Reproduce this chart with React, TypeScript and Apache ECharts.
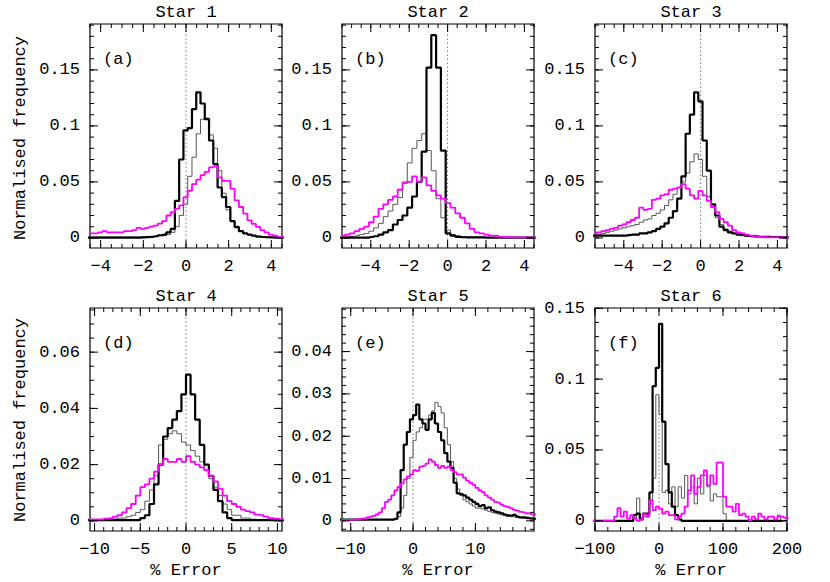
import React, { useEffect, useRef } from 'react';
import * as echarts from 'echarts';

const FONT_FAMILY = '"Liberation Mono", "DejaVu Sans Mono", monospace';
const FONT_SIZE = 17;

const titles = ['Star 1', 'Star 2', 'Star 3', 'Star 4', 'Star 5', 'Star 6'];
const tags = ['(a)', '(b)', '(c)', '(d)', '(e)', '(f)'];
const yAxisTitle = 'Normalised frequency';
const xAxisTitle = '% Error';

const xTicksABC = [-4, -2, 0, 2, 4];
const xTicksD = [-10, -5, 0, 5, 10];
const xTicksE = [-10, 0, 10];
const xTicksF = [-100, 0, 100, 200];
const yTicksABC = [0, 0.05, 0.1, 0.15];
const yTicksD = [0, 0.02, 0.04, 0.06];
const yTicksE = [0, 0.01, 0.02, 0.03, 0.04];
const yTicksF = [0, 0.05, 0.1, 0.15];

// ---- Star 1 (bin centres start at -4.42, width 0.2)
const binStartA = -4.42;
const binWidthA = 0.2;
const blackA = [
  0.0003, 0.0003, 0.0003, 0.0003, 0.0003, 0.0003, 0.0003, 0.0003, 0.0003, 0.0003, 0.0003, 0.0003,
  0.0005, 0.0007, 0.001, 0.0015, 0.0024, 0.003, 0.005, 0.008,
  0.033, 0.07, 0.096, 0.098, 0.115, 0.13, 0.12, 0.106, 0.087, 0.066,
  0.045, 0.0365, 0.0276, 0.015, 0.0098, 0.006, 0.004, 0.003, 0.002, 0.0012,
  0.0008, 0.0006, 0.0005, 0.0004, 0.0003,
];
const greyA = [
  0.0008, 0.0008, 0.0008, 0.0008, 0.0008, 0.0008, 0.0008, 0.0008, 0.0008, 0.0008, 0.0008, 0.0008,
  0.001, 0.001, 0.0012, 0.0015, 0.002, 0.002, 0.003, 0.005,
  0.01, 0.02, 0.03, 0.055, 0.072, 0.093, 0.106, 0.107, 0.092, 0.08,
  0.06, 0.04, 0.025, 0.015, 0.009, 0.006, 0.004, 0.003, 0.002, 0.0015,
  0.001, 0.0008, 0.0006, 0.0005, 0.0004,
];
const magentaA = [
  0.004, 0.004, 0.005, 0.006, 0.005, 0.005, 0.005, 0.005, 0.006, 0.006, 0.007, 0.009,
  0.008, 0.009, 0.01, 0.011, 0.0128, 0.015, 0.02, 0.023,
  0.026, 0.029, 0.0365, 0.042, 0.048, 0.052, 0.056, 0.059, 0.063, 0.064,
  0.054, 0.051, 0.051, 0.044, 0.0335, 0.0276, 0.0217, 0.0157, 0.0125, 0.0098,
  0.007, 0.005, 0.003, 0.002, 0.001,
];

// ---- Star 2 (bin centres start at -5.475, width 0.25)
const binStartB = -5.475;
const binWidthB = 0.25;
const blackB = [
  0.0003, 0.0003, 0.0003, 0.0003, 0.0003, 0.0003,
  0.0008, 0.0015, 0.003, 0.005, 0.007, 0.012, 0.016, 0.02, 0.027, 0.037,
  0.05, 0.077, 0.152, 0.181, 0.152, 0.078, 0.004, 0.002, 0.001, 0.0006,
  0.0005, 0.0005, 0.0004, 0.0004, 0.0003, 0.0003, 0.0003, 0.0003, 0.0003, 0.0003,
  0.0003, 0.0003, 0.0003, 0.0003, 0.0003,
];
const greyB = [
  0.001, 0.001, 0.0015, 0.002, 0.003, 0.004,
  0.006, 0.009, 0.013, 0.019, 0.024, 0.03, 0.036, 0.05, 0.067, 0.08,
  0.087, 0.093, 0.078, 0.06, 0.035, 0.018, 0.007, 0.003, 0.002, 0.001,
  0.0008, 0.0006, 0.0005, 0.0005, 0.0004, 0.0004, 0.0003, 0.0003, 0.0003, 0.0003,
  0.0003, 0.0003, 0.0003, 0.0003, 0.0003,
];
const magentaB = [
  0.002, 0.003, 0.004, 0.006, 0.008, 0.01,
  0.014, 0.019, 0.026, 0.03, 0.034, 0.037, 0.043, 0.049, 0.05, 0.055,
  0.05, 0.054, 0.047, 0.042, 0.038, 0.035, 0.031, 0.027, 0.022, 0.018,
  0.013, 0.008, 0.005, 0.004, 0.003, 0.002, 0.002, 0.001, 0.0008, 0.0006,
  0.0005, 0.0005, 0.0004, 0.0004, 0.0003,
];

// ---- Star 3 (bin centres start at -5.51, width 0.22)
const binStartC = -5.51;
const binWidthC = 0.22;
const blackC = [
  0.002, 0.002, 0.002, 0.002, 0.002, 0.002, 0.002, 0.002,
  0.0025, 0.003, 0.003, 0.004, 0.004, 0.005, 0.006, 0.008, 0.01, 0.013,
  0.018, 0.024, 0.035, 0.055, 0.093, 0.11, 0.13, 0.122, 0.087, 0.06,
  0.03, 0.02, 0.01, 0.007, 0.005, 0.004, 0.003, 0.003, 0.002, 0.0015,
  0.0015, 0.001, 0.001, 0.001, 0.0008, 0.0008, 0.0006, 0.0005,
];
const greyC = [
  0.002, 0.003, 0.004, 0.005, 0.006, 0.007, 0.008, 0.009,
  0.01, 0.011, 0.012, 0.014, 0.016, 0.017, 0.02, 0.022, 0.025, 0.029,
  0.034, 0.039, 0.045, 0.05, 0.058, 0.068, 0.075, 0.07, 0.055, 0.037,
  0.027, 0.018, 0.012, 0.008, 0.006, 0.004, 0.003, 0.002, 0.0015, 0.0015,
  0.001, 0.001, 0.001, 0.0008, 0.0008, 0.0006, 0.0005, 0.0005,
];
const magentaC = [
  0.004, 0.005, 0.006, 0.007, 0.008, 0.009, 0.011, 0.012,
  0.014, 0.016, 0.018, 0.027, 0.025, 0.026, 0.034, 0.035, 0.038, 0.039,
  0.043, 0.044, 0.045, 0.048, 0.044, 0.038, 0.035, 0.042, 0.038, 0.033,
  0.028, 0.023, 0.017, 0.014, 0.011, 0.007, 0.005, 0.004, 0.003, 0.002,
  0.001, 0.0008, 0.0006, 0.0005, 0.0005, 0.0004, 0.0004, 0.0003,
];

// ---- Star 4 (bin centres start at -10.25, width 0.5)
const binStartD = -10.25;
const binWidthD = 0.5;
const blackD = [
  0.0003, 0.0003, 0.0003, 0.0003, 0.0003, 0.0003, 0.0003, 0.0003, 0.0003, 0.0003, 0.0003,
  0.001, 0.002, 0.006, 0.013, 0.02, 0.03, 0.033, 0.036, 0.039, 0.045,
  0.052, 0.045, 0.036, 0.027, 0.02, 0.016, 0.011, 0.007, 0.003, 0.001,
  0.0003, 0.0003, 0.0003, 0.0003, 0.0003, 0.0003, 0.0003, 0.0003, 0.0003, 0.0003, 0.0003,
];
const greyD = [
  0.0003, 0.0003, 0.0003, 0.0003, 0.0003, 0.0007, 0.001, 0.001, 0.0015, 0.002,
  0.003, 0.004, 0.007, 0.011, 0.016, 0.027, 0.029, 0.031, 0.032, 0.031,
  0.028, 0.027, 0.025, 0.023, 0.021, 0.018, 0.015, 0.012, 0.009, 0.006,
  0.004, 0.002, 0.002, 0.001, 0.001, 0.0006, 0.0005, 0.0005, 0.0005, 0.0005, 0.0005, 0.0005,
];
const magentaD = [
  0.0005, 0.0005, 0.0005, 0.0008, 0.001, 0.0015, 0.002, 0.003, 0.0045, 0.006,
  0.009, 0.012, 0.013, 0.015, 0.0175, 0.02, 0.022, 0.021, 0.021, 0.022,
  0.021, 0.023, 0.021, 0.02, 0.019, 0.018, 0.016, 0.014, 0.0115, 0.009,
  0.007, 0.006, 0.005, 0.004, 0.0035, 0.003, 0.0022, 0.002, 0.0015, 0.001, 0.0008, 0.0006,
];

// ---- Star 5 (bin centres start at -11.25, width 0.5)
const binStartE = -11.25;
const binWidthE = 0.5;
const blackE = [
  0.0003, 0.0003, 0.0003, 0.0003, 0.0003, 0.0003, 0.0003, 0.0003, 0.0003, 0.0003,
  0.0003, 0.0003, 0.0003, 0.0003, 0.0003, 0.0003, 0.0003, 0.0005, 0.002, 0.012,
  0.018, 0.021, 0.024, 0.025, 0.0275, 0.024, 0.023, 0.0215, 0.024, 0.0255,
  0.023, 0.021, 0.019, 0.016, 0.014, 0.0125, 0.009, 0.0065, 0.0063, 0.006,
  0.0055, 0.005, 0.0045, 0.004, 0.0035, 0.0037, 0.003, 0.0032, 0.0025, 0.0022,
  0.002, 0.0018, 0.0015, 0.0013, 0.0012, 0.0014, 0.001, 0.0008, 0.0008, 0.0007,
  0.0006, 0.0005,
];
const greyE = [
  0.0003, 0.0003, 0.0003, 0.0003, 0.0003, 0.0003, 0.0003, 0.0003, 0.0003, 0.0003,
  0.0003, 0.0003, 0.0003, 0.0003, 0.0003, 0.0003, 0.0003, 0.0003, 0.001, 0.003,
  0.006, 0.01, 0.015, 0.019, 0.021, 0.022, 0.024, 0.024, 0.025, 0.026,
  0.028, 0.027, 0.0255, 0.022, 0.018, 0.014, 0.01, 0.0075, 0.006, 0.005,
  0.0045, 0.004, 0.0035, 0.003, 0.003, 0.0028, 0.0025, 0.0022, 0.002, 0.0018,
  0.0016, 0.0014, 0.0012, 0.001, 0.001, 0.0009, 0.0008, 0.0007, 0.0006, 0.0005,
  0.0005, 0.0005,
];
const magentaE = [
  0.0002, 0.0002, 0.0002, 0.0003, 0.0003, 0.0004, 0.0005, 0.0006, 0.0008, 0.001,
  0.0012, 0.0015, 0.002, 0.003, 0.0045, 0.005, 0.006, 0.0072, 0.008, 0.0088,
  0.0098, 0.0105, 0.011, 0.012, 0.0118, 0.0128, 0.013, 0.0135, 0.0145, 0.014,
  0.0132, 0.0125, 0.013, 0.0125, 0.0128, 0.012, 0.0115, 0.011, 0.011, 0.0102,
  0.0095, 0.009, 0.0085, 0.0078, 0.0072, 0.0068, 0.006, 0.0055, 0.005, 0.0045,
  0.0043, 0.0038, 0.0035, 0.0033, 0.003, 0.0026, 0.0024, 0.0021, 0.002, 0.0018,
  0.0017, 0.0015,
];

// ---- Star 6 (bin centres start at -97.5, width 5)
const binStartF = -97.5;
const binWidthF = 5;
const blackF = [
  0, 0, 0, 0, 0, 0, 0, 0, 0, 0, 0, 0,
  0.004, 0.005, 0.001, 0.005, 0.005, 0.02, 0.095, 0.108, 0.139, 0.07, 0.04, 0.02, 0.01, 0.004, 0.001,
  0, 0, 0, 0, 0, 0, 0, 0, 0, 0, 0, 0, 0, 0, 0, 0, 0, 0, 0, 0, 0, 0, 0, 0, 0, 0, 0, 0, 0, 0, 0,
];
const greyF = [
  0, 0, 0, 0, 0, 0, 0, 0, 0, 0, 0, 0,
  0.002, 0.016, 0.002, 0.003, 0.004, 0.012, 0.03, 0.089, 0.075, 0.02, 0.0215, 0.012, 0.024, 0.01,
  0.024, 0.016, 0.032, 0.019, 0.024, 0.012, 0.03, 0.019, 0.032, 0.024, 0.014, 0.019, 0.017, 0.017, 0.005,
  0, 0, 0, 0, 0, 0, 0, 0, 0, 0, 0, 0, 0, 0, 0, 0,
  0.004, 0, 0,
];
const magentaF = [
  0, 0, 0, 0, 0, 0, 0.003, 0.009, 0.003, 0.0065,
  0.0016, 0.004, 0.0016, 0, 0.001, 0.005, 0.003, 0.0145, 0.0075, 0.01,
  0.0086, 0.005, 0.0065, 0.004, 0.004, 0.001, 0.003, 0.005, 0.01, 0.0215,
  0.032, 0.019, 0.024, 0.032, 0.0355, 0.025, 0.032, 0.026, 0.041, 0.041,
  0.017, 0.01, 0.01, 0.0065, 0.012, 0.004, 0.005, 0.003, 0.0005, 0.003,
  0.001, 0.005, 0.003, 0.001, 0.003, 0.003, 0.001, 0.003, 0.003, 0.002,
];

const panels = [
  { left: 90, top: 24, xMin: -4.5, xMax: 4.5, yMin: -0.009, yMax: 0.191, xTicks: xTicksABC, xMinor: 0.5, yTicks: yTicksABC, yMinor: 0.01, binStart: binStartA, binWidth: binWidthA, black: blackA, grey: greyA, magenta: magentaA, zeroTop: 0.191 },
  { left: 342, top: 24, xMin: -5.5, xMax: 4.5, yMin: -0.009, yMax: 0.191, xTicks: xTicksABC, xMinor: 0.5, yTicks: yTicksABC, yMinor: 0.01, binStart: binStartB, binWidth: binWidthB, black: blackB, grey: greyB, magenta: magentaB, zeroTop: 0.191 },
  { left: 595, top: 24, xMin: -5.5, xMax: 4.5, yMin: -0.009, yMax: 0.191, xTicks: xTicksABC, xMinor: 0.5, yTicks: yTicksABC, yMinor: 0.01, binStart: binStartC, binWidth: binWidthC, black: blackC, grey: greyC, magenta: magentaC, zeroTop: 0.191 },
  { left: 90, top: 308, xMin: -10.5, xMax: 10.5, yMin: -0.0036, yMax: 0.0757, xTicks: xTicksD, xMinor: 1, yTicks: yTicksD, yMinor: 0.005, binStart: binStartD, binWidth: binWidthD, black: blackD, grey: greyD, magenta: magentaD, zeroTop: 0.0757 },
  { left: 342, top: 308, xMin: -11.4, xMax: 19.4, yMin: -0.0024, yMax: 0.0503, xTicks: xTicksE, xMinor: 2, yTicks: yTicksE, yMinor: 0.002, binStart: binStartE, binWidth: binWidthE, black: blackE, grey: greyE, magenta: magentaE, zeroTop: 0.0503 },
  { left: 595, top: 308, xMin: -100, xMax: 200, yMin: -0.0072, yMax: 0.1502, xTicks: xTicksF, xMinor: 20, yTicks: yTicksF, yMinor: 0.01, binStart: binStartF, binWidth: binWidthF, black: blackF, grey: greyF, magenta: magentaF, zeroTop: 0.088 },
];

const PW = 192;
const PH = 224;

function stepsBetween(min: number, max: number, step: number) {
  const out: number[] = [];
  const s = Math.ceil(min / step - 1e-9);
  for (let i = s; i * step <= max + 1e-9; i++) out.push(+(i * step).toFixed(6));
  return out;
}

function histData(start: number, width: number, values: number[]) {
  const pts: number[][] = values.map((v, i) => [+(start + i * width).toFixed(6), v]);
  pts.unshift([start - width, values[0]]);
  pts.push([start + values.length * width, values[values.length - 1]]);
  return pts;
}

const fmt = (v: number) => (v < 0 ? '\u2212' + String(Math.abs(v)) : String(v));

function textStyle(text: string, align: string, vAlign: string) {
  return {
    text,
    fill: '#000',
    font: `${FONT_SIZE}px ${FONT_FAMILY}`,
    fontFamily: FONT_FAMILY,
    fontSize: FONT_SIZE,
    textAlign: align,
    align,
    textVerticalAlign: vAlign,
    verticalAlign: vAlign,
  };
}

function buildOption() {
  const grid: any[] = [];
  const xAxis: any[] = [];
  const yAxis: any[] = [];
  const series: any[] = [];
  const elements: any[] = [];
  const labelStyle = { fontFamily: FONT_FAMILY, fontSize: FONT_SIZE, color: '#000', margin: 10, formatter: fmt };

  panels.forEach((p, i) => {
    const h = i < 3 ? PH : PH - 1;
    grid.push({ left: p.left, top: p.top, width: PW, height: h, containLabel: false, show: true, borderColor: '#000', borderWidth: 1.2, backgroundColor: 'transparent' });
    xAxis.push({
      type: 'value', gridIndex: i, min: p.xMin, max: p.xMax, position: 'bottom',
      splitLine: { show: false }, minorTick: { show: false }, axisTick: { show: false },
      axisLine: { show: false, onZero: false },
      axisLabel: { show: true, customValues: p.xTicks, ...labelStyle },
    });
    yAxis.push({
      type: 'value', gridIndex: i, min: p.yMin, max: p.yMax, position: 'left',
      splitLine: { show: false }, minorTick: { show: false }, axisTick: { show: false },
      axisLine: { show: false, onZero: false },
      axisLabel: { show: true, customValues: p.yTicks, ...labelStyle },
    });

    // tick marks: [value, isY, isMajor]
    const tickData: number[][] = [];
    stepsBetween(p.xMin, p.xMax, p.xMinor).forEach((v) => tickData.push([v, 0, 0]));
    p.xTicks.forEach((v) => tickData.push([v, 0, 1]));
    stepsBetween(p.yMin, p.yMax, p.yMinor).forEach((v) => tickData.push([v, 1, 0]));
    p.yTicks.forEach((v) => tickData.push([v, 1, 1]));
    const xMid = (p.xMin + p.xMax) / 2;
    const yMid = (p.yMin + p.yMax) / 2;

    const common = { xAxisIndex: i, yAxisIndex: i, silent: true };
    series.push({
      ...common,
      type: 'custom',
      name: 'ticks' + i,
      clip: false,
      z: 5,
      encode: { x: -1, y: -1 },
      data: tickData,
      renderItem: (params: any, api: any) => {
        const cs = params.coordSys;
        const v = api.value(0);
        const isY = api.value(1);
        const len = api.value(2) ? 8 : 4;
        const st = { stroke: '#000', lineWidth: 1 };
        if (!isY) {
          const x = api.coord([v, yMid])[0];
          const b = cs.y + cs.height;
          return {
            type: 'group',
            children: [
              { type: 'line', shape: { x1: x, y1: b, x2: x, y2: b - len }, style: st },
              { type: 'line', shape: { x1: x, y1: cs.y, x2: x, y2: cs.y + len }, style: st },
            ],
          };
        }
        const y = api.coord([xMid, v])[1];
        const r = cs.x + cs.width;
        return {
          type: 'group',
          children: [
            { type: 'line', shape: { x1: cs.x, y1: y, x2: cs.x + len, y2: y }, style: st },
            { type: 'line', shape: { x1: r, y1: y, x2: r - len, y2: y }, style: st },
          ],
        };
      },
    });

    const lc = { ...common, type: 'line', symbol: 'none', clip: true };
    series.push({ ...lc, name: 'zero' + i, data: [[0, p.yMin], [0, p.zeroTop]], lineStyle: { color: '#777', width: 1, type: [1.5, 2.5] } });
    series.push({ ...lc, name: 'grey' + i, step: 'middle', data: histData(p.binStart, p.binWidth, p.grey), lineStyle: { color: '#555', width: 1 } });
    series.push({ ...lc, name: 'black' + i, step: 'middle', data: histData(p.binStart, p.binWidth, p.black), lineStyle: { color: '#000', width: 2.2 } });
    series.push({ ...lc, name: 'magenta' + i, step: 'middle', data: histData(p.binStart, p.binWidth, p.magenta), lineStyle: { color: '#ff00ff', width: 1.8 } });

    const cx = p.left + PW / 2;
    elements.push({ type: 'text', x: cx, y: p.top - 11.5, style: textStyle(titles[i], 'center', 'middle') });
    elements.push({ type: 'text', x: p.left + 13, y: p.top + 35, style: textStyle(tags[i], 'left', 'middle') });
    if (i >= 3) {
      elements.push({ type: 'text', x: cx, y: 570, style: textStyle(xAxisTitle, 'center', 'middle') });
    }
  });

  elements.push({ type: 'text', x: 20, y: 24 + PH / 2 + 2, rotation: Math.PI / 2, style: textStyle(yAxisTitle, 'center', 'middle') });
  elements.push({ type: 'text', x: 20, y: 308 + PH / 2, rotation: Math.PI / 2, style: textStyle(yAxisTitle, 'center', 'middle') });

  return {
    animation: false,
    backgroundColor: '#fff',
    grid,
    xAxis,
    yAxis,
    series,
    graphic: { elements },
  };
}

export default function App() {
  const ref = useRef<HTMLDivElement>(null);
  useEffect(() => {
    if (!ref.current) return;
    const chart = echarts.init(ref.current, null, { renderer: 'svg' });
    chart.setOption(buildOption() as any);
    return () => chart.dispose();
  }, []);
  return (
    <div
      ref={ref}
      style={{ position: 'absolute', left: 0, top: 0, width: 830, height: 582, background: '#fff' }}
    />
  );
}
